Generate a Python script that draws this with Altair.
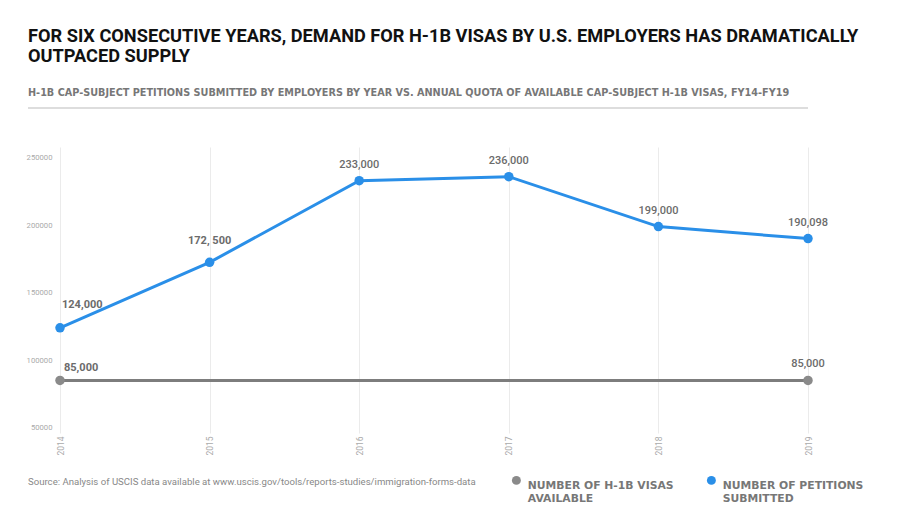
import altair as alt
import pandas as pd

years = [2014, 2015, 2016, 2017, 2018, 2019]
petitions = [124000, 172500, 233000, 236000, 199000, 190098]
petition_labels = ["124,000", "172, 500", "233,000", "236,000", "199,000", "190,098"]
quota = [85000, 85000, 85000, 85000, 85000, 85000]
quota_labels = ["85,000", "", "", "", "", "85,000"]
series_names = ["NUMBER OF H-1B VISAS|AVAILABLE", "NUMBER OF PETITIONS|SUBMITTED"]
line_colors = ["#7d7d7d", "#2a8fe8"]
point_colors = ["#8a8a8a", "#2a8fe8"]
y_ticks = [50000, 100000, 150000, 200000, 250000]

title_lines = ["FOR SIX CONSECUTIVE YEARS, DEMAND FOR H-1B VISAS BY U.S. EMPLOYERS HAS DRAMATICALLY",
               "OUTPACED SUPPLY"]
subtitle = "H-1B CAP-SUBJECT PETITIONS SUBMITTED BY EMPLOYERS BY YEAR VS. ANNUAL QUOTA OF AVAILABLE CAP-SUBJECT H-1B VISAS, FY14-FY19"
source = "Source:  Analysis of USCIS data available at www.uscis.gov/tools/reports-studies/immigration-forms-data"

rows = []
for i, yr in enumerate(years):
    rows.append({"year": yr, "value": quota[i], "series": series_names[0], "label": quota_labels[i],
                 "endpoint": i in (0, len(years) - 1), "kind": "quota"})
    rows.append({"year": yr, "value": petitions[i], "series": series_names[1], "label": petition_labels[i],
                 "endpoint": True, "kind": "petition"})
df = pd.DataFrame(rows)

x = alt.X("year:Q", scale=alt.Scale(domain=[2014, 2019], nice=False, zero=False),
          axis=alt.Axis(values=years, format="d", labelAngle=-90, labelFontSize=8.5, labelColor="#aaaaaa",
                        labelFont="Roboto", grid=True, gridColor="#ebebeb", domain=False, ticks=False,
                        labelPadding=3, title=None, labelAlign="right", labelBaseline="middle"))
y = alt.Y("value:Q", scale=alt.Scale(domain=[46000, 258000], nice=False, zero=False),
          axis=alt.Axis(values=y_ticks, format="d", labelFontSize=7.7, labelColor="#aaaaaa",
                        labelFont="Roboto", grid=False, domain=False, ticks=False, labelPadding=8, title=None))

base = alt.Chart(df)
lines = base.mark_line(strokeWidth=3).encode(
    x=x, y=y, detail="series:N",
    color=alt.Color("series:N", scale=alt.Scale(domain=series_names, range=line_colors), legend=None))
points = base.transform_filter("datum.endpoint").mark_point(filled=True, opacity=1, size=90).encode(
    x=x, y=y,
    color=alt.Color("series:N", scale=alt.Scale(domain=series_names, range=point_colors),
                    legend=alt.Legend(orient="none", legendX=451, legendY=328, direction="horizontal",
                                      title=None, symbolType="circle", symbolSize=80, symbolStrokeWidth=0,
                                      symbolOpacity=1,
                                      labelExpr="split(datum.label, '|')", labelFont="DejaVu Sans",
                                      labelFontWeight="bold", labelFontSize=10.8, labelColor="#777777",
                                      labelLimit=300, columnPadding=32, labelOffset=6, labelBaseline="top")))

lab_style = dict(font="Roboto", color="#6b6b6b")
lab_p14 = base.transform_filter("datum.kind == 'petition' && datum.year == 2014").mark_text(
    align="left", dx=2, dy=-23, fontSize=11, fontWeight="bold", **lab_style).encode(x=x, y=y, text="label:N")
lab_q14 = base.transform_filter("datum.kind == 'quota' && datum.year == 2014").mark_text(
    align="left", dx=4, dy=-12, fontSize=11, fontWeight="bold", **lab_style).encode(x=x, y=y, text="label:N")
lab_p15 = base.transform_filter("datum.kind == 'petition' && datum.year == 2015").mark_text(
    align="center", dy=-21, fontSize=11, fontWeight="bold", **lab_style).encode(x=x, y=y, text="label:N")
lab_rest = base.transform_filter("datum.year > 2015 && datum.label != ''").mark_text(
    align="center", dy=-16, fontSize=11, fontWeight=500, **lab_style).encode(x=x, y=y, text="label:N")

rule = alt.Chart(pd.DataFrame({"a": [0]})).mark_rule(color="#dddddd", strokeWidth=2).encode(
    x=alt.value(-32), x2=alt.value(748), y=alt.value(-39))
src = alt.Chart(pd.DataFrame({"t": [source]})).mark_text(
    align="left", baseline="middle", font="Roboto", fontSize=9.6, color="#888888").encode(
    text="t:N", x=alt.value(-32), y=alt.value(335))

chart = alt.layer(lines, points, lab_p14, lab_q14, lab_p15, lab_rest, rule, src).resolve_scale(
    color="independent").properties(
    width=748, height=286,
    autosize=alt.AutoSizeParams(type="none"),
    padding={"left": 52, "top": 139, "right": 84, "bottom": 90},
    title=alt.TitleParams(text=title_lines, subtitle=subtitle, anchor="start", frame="group", dx=-32,
                          font="Roboto", fontSize=18.2, fontWeight="bold", color="#111111", lineHeight=20,
                          subtitleFont="DejaVu Sans", subtitleFontSize=9.7, subtitleFontWeight="bold",
                          subtitleColor="#777777", subtitlePadding=22, offset=8),
).configure_view(stroke=None)

chart.save("out.html", embed_options={"renderer": "svg", "actions": False})
